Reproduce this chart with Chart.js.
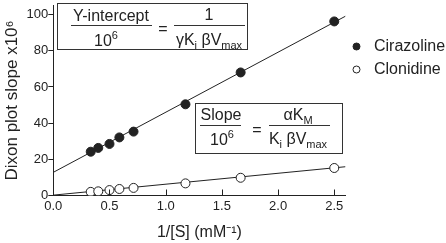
<!DOCTYPE html>
<html lang="en">
<head>
<meta charset="UTF-8" />
<title>Dixon plot slope vs 1/[S]</title>
<script src="https://cdn.jsdelivr.net/npm/chart.js"></script>
<style>
  html, body { margin: 0; padding: 0; background: #fff; }
  #wrap { width: 446px; height: 243px; }
</style>
</head>
<body>
<div id="wrap"><canvas id="dixonChart" width="446" height="243"></canvas></div>
<script>
    // 1/[S] in mM^-1
    const invS = [0.333, 0.4, 0.5, 0.588, 0.714, 1.176, 1.667, 2.5];
    // Dixon plot slopes x10^6
    const cirazoline = [24.2, 26.3, 28.5, 32.1, 35.3, 50.4, 68.0, 96.2];
    const clonidine = [2.0, 2.3, 3.0, 3.6, 4.2, 6.7, 9.8, 15.2];
    // fitted lines (end points)
    const fitX = [0, 2.6];
    const cirazolineFit = [12.8, 99.1];
    const clonidineFit = [0.2, 15.9];
    const xTicks = [0, 0.5, 1.0, 1.5, 2.0, 2.5];
    const yTicks = [0, 20, 40, 60, 80, 100];

    const ink = '#222';
    const family = "'Liberation Sans', Arial, Helvetica, sans-serif";

    const toPts = (xs, ys) => xs.map((x, i) => ({x: x, y: ys[i]}));

    // draw a line of text with sub / superscripts, centred on cx
    function drawRich(ctx, parts, cx, cy) {
        const fontOf = p => (p[1] ? '11px ' : '16px ') + family;
        let w = 0;
        parts.forEach(p => { ctx.font = fontOf(p); w += ctx.measureText(p[0]).width; });
        let x = cx - w / 2;
        parts.forEach(p => {
            ctx.font = fontOf(p);
            const dy = p[1] === 'sub' ? 5 : p[1] === 'sup' ? -6 : 0;
            ctx.fillText(p[0], x, cy + dy);
            x += ctx.measureText(p[0]).width;
        });
    }

    function hline(ctx, x1, x2, y) {
        ctx.beginPath();
        ctx.moveTo(x1, y + 0.5);
        ctx.lineTo(x2, y + 0.5);
        ctx.stroke();
    }

    const decor = {
        id: 'decor',
        afterDraw(chart) {
            const ctx = chart.ctx;
            const xs = chart.scales.x;
            const area = chart.chartArea;
            ctx.save();
            ctx.strokeStyle = ink;
            ctx.fillStyle = ink;
            ctx.lineWidth = 1;

            // x ticks point inwards
            xTicks.forEach(v => {
                if (v === 0) return;
                const px = Math.round(xs.getPixelForValue(v)) + 0.5;
                ctx.beginPath();
                ctx.moveTo(px, area.bottom);
                ctx.lineTo(px, area.bottom - 6);
                ctx.stroke();
            });

            ctx.textBaseline = 'middle';

            // box 1: Y-intercept
            ctx.strokeStyle = '#333';
            ctx.strokeRect(57.5, 3.5, 190, 46);
            drawRich(ctx, [['Y-intercept']], 111, 17);
            hline(ctx, 71, 152, 25);
            drawRich(ctx, [['10'], ['6', 'sup']], 106, 42);
            drawRich(ctx, [['=']], 163, 30);
            drawRich(ctx, [['1']], 209, 16);
            hline(ctx, 174, 245, 25);
            drawRich(ctx, [['γK'], ['i', 'sub'], [' βV'], ['max', 'sub']], 209, 41);

            // box 2: Slope
            ctx.strokeRect(195.5, 103.5, 147, 50);
            drawRich(ctx, [['Slope']], 221, 116);
            hline(ctx, 200, 241, 125);
            drawRich(ctx, [['10'], ['6', 'sup']], 222, 141);
            drawRich(ctx, [['=']], 257, 131);
            drawRich(ctx, [['αK'], ['M', 'sub']], 298, 116);
            hline(ctx, 269, 330, 125);
            drawRich(ctx, [['K'], ['i', 'sub'], [' βV'], ['max', 'sub']], 298, 140);

            // legend
            const rows = [[chart.data.datasets[0], 46.5], [chart.data.datasets[1], 69.5]];
            rows.forEach(([ds, y]) => {
                ctx.beginPath();
                ctx.arc(356.5, y, 3.5, 0, Math.PI * 2);
                ctx.fillStyle = ds.backgroundColor;
                ctx.fill();
                ctx.strokeStyle = ds.borderColor;
                ctx.stroke();
                ctx.fillStyle = ink;
                ctx.font = '16px ' + family;
                ctx.textAlign = 'left';
                ctx.fillText(ds.label, 374, y);
            });
            ctx.restore();
        }
    };

    const ctx = document.getElementById('dixonChart').getContext('2d');
    const dixonChart = new Chart(ctx, {
        type: 'scatter',
        data: {
            datasets: [{
                label: 'Cirazoline',
                data: toPts(invS, cirazoline),
                backgroundColor: ink,
                borderColor: ink,
                borderWidth: 1,
                pointRadius: 4.5,
                order: 1
            }, {
                label: 'Clonidine',
                data: toPts(invS, clonidine),
                backgroundColor: '#fff',
                borderColor: ink,
                borderWidth: 1,
                pointRadius: 4.5,
                order: 2
            }, {
                label: 'Cirazoline fit',
                data: toPts(fitX, cirazolineFit),
                showLine: true,
                borderColor: ink,
                borderWidth: 1,
                pointRadius: 0,
                order: 3
            }, {
                label: 'Clonidine fit',
                data: toPts(fitX, clonidineFit),
                showLine: true,
                borderColor: ink,
                borderWidth: 1,
                pointRadius: 0,
                order: 4
            }]
        },
        options: {
            responsive: false,
            animation: false,
            layout: { padding: { left: 0, right: 100.5, top: 1, bottom: 0 } },
            plugins: {
                legend: { display: false },
                tooltip: { enabled: false }
            },
            scales: {
                x: {
                    type: 'linear',
                    min: 0,
                    max: 2.6,
                    afterBuildTicks: s => { s.ticks = xTicks.map(v => ({value: v})); },
                    afterFit: s => { s.height = 47.5; s.paddingLeft = 0; s.paddingRight = 0; },
                    grid: { display: false, drawTicks: false },
                    border: { display: true, color: ink, width: 1 },
                    ticks: {
                        color: ink,
                        padding: 3,
                        maxRotation: 0,
                        font: { family: family, size: 13 },
                        callback: v => Number(v).toFixed(1)
                    },
                    title: {
                        display: true,
                        text: '1/[S] (mM⁻¹)',
                        color: ink,
                        padding: { top: 0, bottom: 1 },
                        font: { family: family, size: 16 }
                    }
                },
                y: {
                    type: 'linear',
                    min: 0,
                    max: 105,
                    afterBuildTicks: s => { s.ticks = yTicks.map(v => ({value: v})); },
                    afterFit: s => { s.width = 53.3; s.paddingTop = 0; s.paddingBottom = 0; },
                    grid: { drawOnChartArea: false, drawTicks: true, tickLength: 5, color: ink },
                    border: { display: true, color: ink, width: 1 },
                    ticks: {
                        color: ink,
                        padding: 0,
                        font: { family: family, size: 13 }
                    },
                    title: {
                        display: true,
                        text: 'Dixon plot slope x10⁶',
                        color: ink,
                        padding: { top: 2, bottom: 0 },
                        font: { family: family, size: 17 }
                    }
                }
            }
        },
        plugins: [decor]
    });
</script>
</body>
</html>
